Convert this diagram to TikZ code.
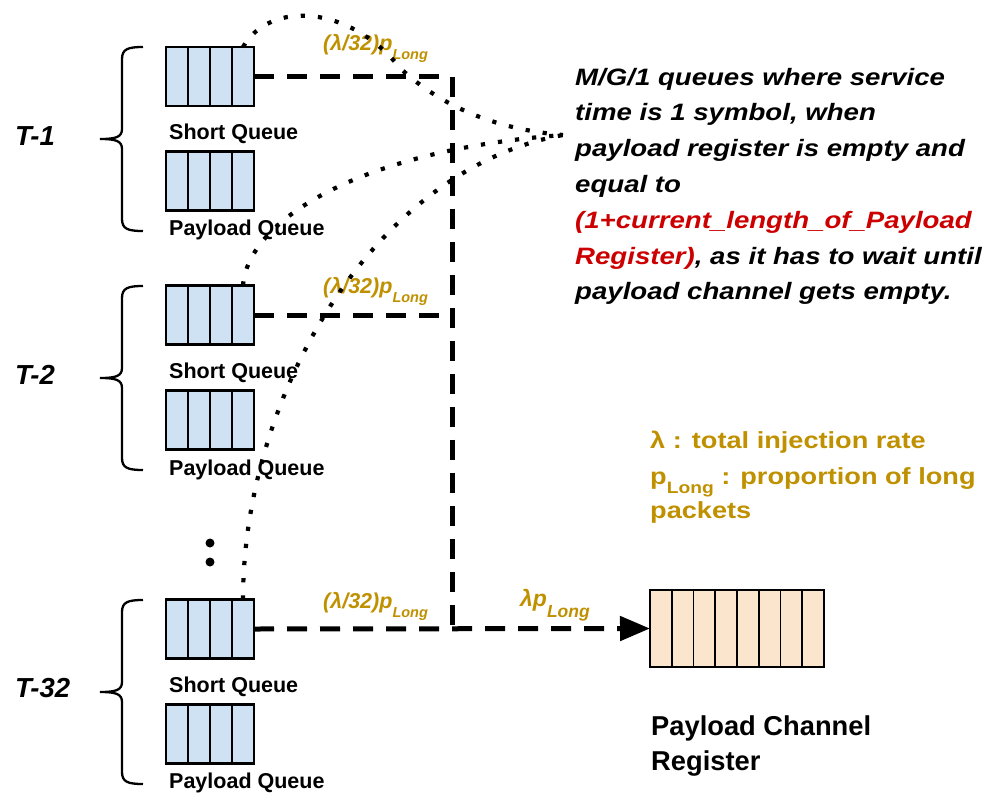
\documentclass[tikz,border=0pt]{standalone}
\usepackage{fontspec}
\setmainfont{Liberation Sans}
\newfontfamily\widefont[FakeStretch=1.165]{Liberation Sans}
\usetikzlibrary{arrows.meta}
\definecolor{qblue}{HTML}{CFE2F3}
\definecolor{qpeach}{HTML}{FCE5CD}
\definecolor{gold}{HTML}{BF9000}
\definecolor{darkred}{HTML}{CC0000}
\tikzset{
  queue/.style={draw, line width=2.4pt, fill=qblue, minimum width=88pt, minimum height=59pt,
    inner sep=0pt, outer sep=0pt,
    path picture={\foreach \k in {1,2,3}{\draw[line width=2.4pt]
      ([xshift=\k*22pt]path picture bounding box.north west) --
      ([xshift=\k*22pt]path picture bounding box.south west);}}},
  register/.style={draw, line width=2pt, fill=qpeach, minimum width=174pt, minimum height=77pt,
    inner sep=0pt, outer sep=0pt,
    path picture={\foreach \k in {1,...,7}{\draw[line width=1.6pt]
      ([xshift=\k*21.75pt]path picture bounding box.north west) --
      ([xshift=\k*21.75pt]path picture bounding box.south west);}}},
  qlabel/.style={anchor=base west, inner sep=0pt, font=\fontsize{21.5}{24}\selectfont\bfseries},
  tlabel/.style={anchor=base west, inner sep=0pt, font=\fontsize{27.5}{30}\selectfont\bfseries\itshape},
  ratelabel/.style={anchor=base west, inner sep=0pt, text=gold, font=\fontsize{21.5}{24}\selectfont\bfseries\itshape},
  notetext/.style={anchor=base west, inner sep=0pt, font=\widefont\fontsize{23.7}{28}\selectfont\bfseries\itshape},
  legendtext/.style={anchor=base west, inner sep=0pt, text=gold, font=\widefont\fontsize{23.3}{28}\selectfont\bfseries},
  regtext/.style={anchor=base west, inner sep=0pt, font=\fontsize{27.3}{30}\selectfont\bfseries},
  dashline/.style={line width=5pt, dash pattern=on 20pt off 13pt},
  dotline/.style={line width=4.2pt, dash pattern=on 4.2pt off 13pt},
  bracepath/.style={line width=2.3pt},
  tbrace/.pic={\draw[bracepath] (43,-92) .. controls (28,-92) and (22,-90) .. (22,-80) -- (22,-10)
      .. controls (22,-2) and (16,0) .. (0,0) .. controls (16,0) and (22,2) .. (22,10) -- (22,80)
      .. controls (22,90) and (28,92) .. (43,92);},
  ell/.style={circle, fill=black, inner sep=0pt, minimum size=9pt}
}
\begin{document}
\begin{tikzpicture}[x=1pt,y=-1pt]
\useasboundingbox (0,0) rectangle (989,793);

% queues
\node[queue] (s1) at (210,76.5) {};
\node[queue] (p1) at (210,181) {};
\node[queue] (s2) at (210,315) {};
\node[queue] (p2) at (210,420) {};
\node[queue] (s32) at (210,629) {};
\node[queue] (p32) at (210,734) {};

\node[qlabel] (ls1) at (169,139) {Short Queue};
\node[qlabel] (lp1) at (169,235) {Payload Queue};
\node[qlabel] (ls2) at (169,378) {Short Queue};
\node[qlabel] (lp2) at (169,475) {Payload Queue};
\node[qlabel] (ls32) at (169,692) {Short Queue};
\node[qlabel] (lp32) at (169,788) {Payload Queue};

% braces and thread labels
\pic at (100,139) {tbrace};
\pic at (100,378) {tbrace};
\pic at (100,692) {tbrace};
\node[tlabel] (t1) at (15,145) {T-1};
\node[tlabel] (t2) at (15,384) {T-2};
\node[tlabel] (t32) at (15,697) {T-32};

% vertical ellipsis
\node[ell] (e1) at (210,543) {};
\node[ell] (e2) at (210,562) {};

% payload channel register
\node[register] (reg) at (737,628.5) {};
\node[regtext] (rl1) at (651,735) {Payload Channel};
\node[regtext] (rl2) at (651,770) {Register};

% dashed flows
\coordinate (j1) at (452,76.5);
\coordinate (j32) at (452,629);
\draw[dashline] (s1.east) -- (j1) -- (j32);
\draw[dashline] (s2.east) -- (s2.east -| j1);
\draw[dashline, -{Triangle[length=30pt,width=24pt]}] (s32.east) -- (reg.west);

% rate labels
\node[ratelabel] (r1) at (323,50) {(λ/32)p\raisebox{-9pt}{\fontsize{14.5}{16}\selectfont Long}};
\node[ratelabel] (r2) at (323,293) {(λ/32)p\raisebox{-9pt}{\fontsize{14.5}{16}\selectfont Long}};
\node[ratelabel] (r32) at (323,608) {(λ/32)p\raisebox{-9pt}{\fontsize{14.5}{16}\selectfont Long}};
\node[ratelabel, font=\fontsize{23}{26}\selectfont\bfseries\itshape] (rt) at (520,606) {λp\raisebox{-11pt}{\fontsize{17.5}{19}\selectfont Long}};

% dotted curves to note
\coordinate (conv) at (563,135);
\draw[dotline] ([xshift=-11pt]s1.north east) .. controls (270,0) and (350,5) .. (400,68)
   .. controls (430,96) and (480,128) .. (conv);
\draw[dotline] ([xshift=-11pt]s2.north east) .. controls (248,220) and (360,150) .. (conv);
\draw[dotline] ([xshift=-11pt]s32.north east) .. controls (243,400) and (370,170) .. (conv);

% note text
\node[notetext] (n1) at (575,85) {M/G/1 queues where service};
\node[notetext] (n2) at (575,120.8) {time is 1 symbol, when};
\node[notetext] (n3) at (575,156.6) {payload register is empty and};
\node[notetext] (n4) at (575,192.4) {equal to};
\node[notetext, text=darkred] (n5) at (575,228.2) {(1+current\_length\_of\_Payload};
\node[notetext] (n6) at (575,264) {\textcolor{darkred}{Register)}, as it has to wait until};
\node[notetext] (n7) at (575,299.8) {payload channel gets empty.};

% legend
\node[legendtext] (g1) at (650,448) {λ : total injection rate};
\node[legendtext] (g2) at (650,484) {p\raisebox{-9pt}{\fontsize{16.5}{18}\selectfont Long} : proportion of long};
\node[legendtext] (g3) at (650,518) {packets};
\end{tikzpicture}
\end{document}
